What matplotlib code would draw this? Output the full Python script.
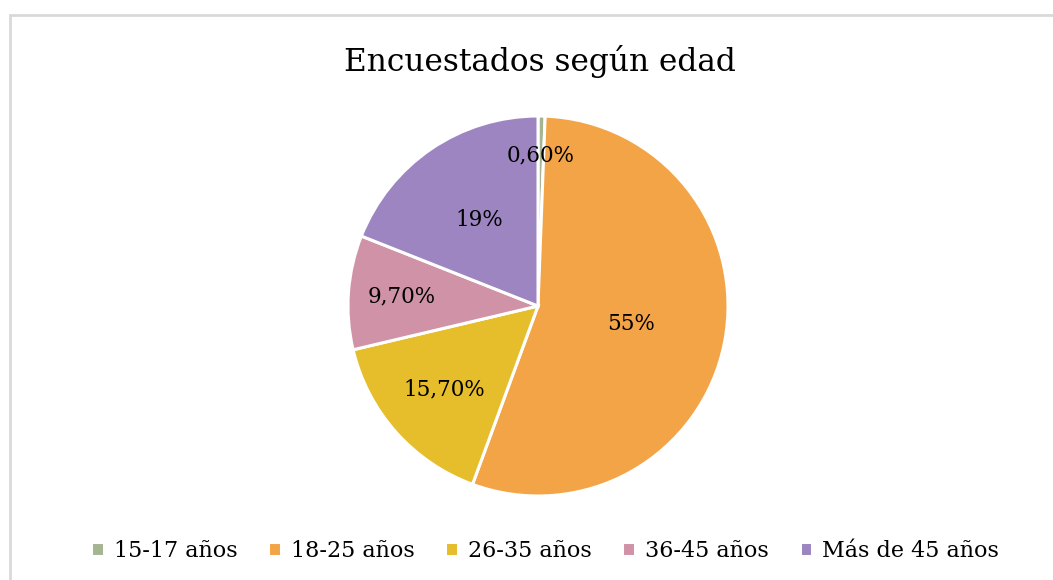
import matplotlib.pyplot as plt
import numpy as np
from matplotlib.patches import Rectangle

plt.rcParams['font.family'] = ['DejaVu Serif']

# datos de la encuesta
categorias = ['15-17 años', '18-25 años', '26-35 años', '36-45 años', 'Más de 45 años']
porcentajes = [0.6, 55, 15.7, 9.7, 19]
etiquetas = ['0,60%', '55%', '15,70%', '9,70%', '19%']
colores = ['#A5B592', '#F3A447', '#E6BD2A', '#D092A7', '#9C85C0']

# distancia relativa de cada etiqueta al centro
dist_etiquetas = [0.79, 0.5, 0.66, 0.72, 0.55]

fig = plt.figure(figsize=(10.53, 5.80), dpi=100)

# marco gris del gráfico
fig.patches.append(Rectangle((10 / 1053, -0.1), 1.2, (580 - 14.5) / 580 + 0.1,
                             transform=fig.transFigure, fill=False,
                             edgecolor='#D9D9D9', linewidth=2))

ax = fig.add_axes([(538 - 192) / 1053, 1 - (306 + 192) / 580,
                   384 / 1053, 384 / 580])
wedges, _ = ax.pie(porcentajes, colors=colores, startangle=90, counterclock=False,
                   radius=1.0, wedgeprops=dict(edgecolor='white', linewidth=2.2))
ax.set_xlim(-192 / 190, 192 / 190)
ax.set_ylim(-192 / 190, 192 / 190)
ax.set_aspect('equal')

for w, txt, d in zip(wedges, etiquetas, dist_etiquetas):
    ang = np.deg2rad((w.theta1 + w.theta2) / 2)
    ax.text(d * np.cos(ang), d * np.sin(ang), txt, ha='center', va='center',
            fontsize=15.5, color='black')

fig.text(540 / 1053, 1 - 62 / 580, 'Encuestados según edad', ha='center',
         va='center', fontsize=22.5, color='black')

fig.legend(wedges, categorias, loc='center', bbox_to_anchor=(545 / 1053, 1 - 551 / 580),
           ncol=5, frameon=False, fontsize=16, handlelength=0.55, handleheight=0.55,
           handletextpad=0.45, columnspacing=1.4, labelcolor='black')

fig.savefig('out.png', dpi=100)
